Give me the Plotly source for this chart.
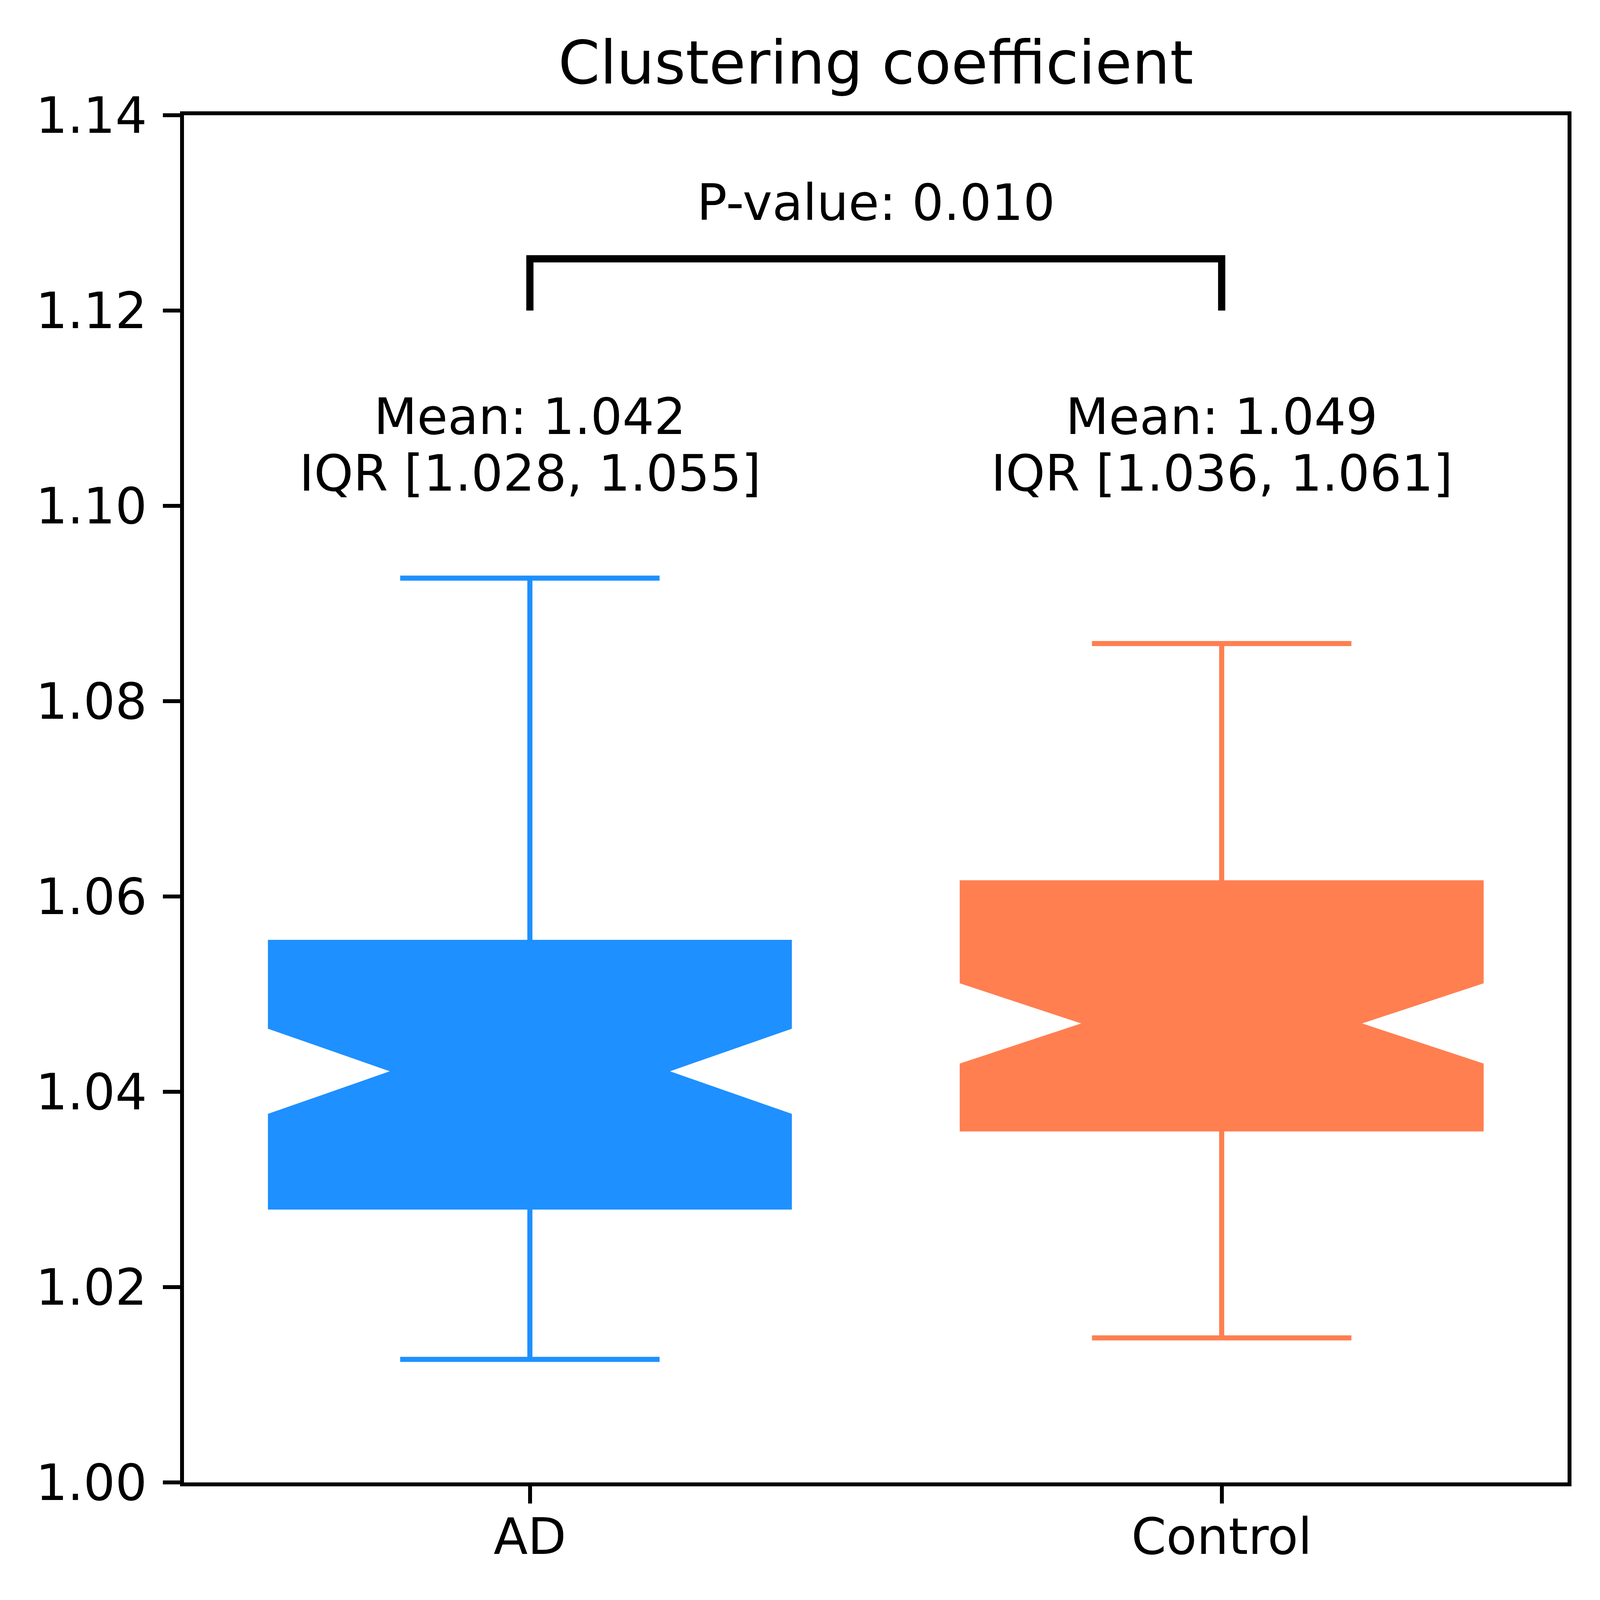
import plotly.graph_objects as go

# ---- data ----
groups = ["AD", "Control"]
positions = [1, 2]
q1_vals = [1.0282, 1.0362]
median_vals = [1.0421, 1.0470]
q3_vals = [1.0553, 1.0614]
lower_whisker = [1.0126, 1.0148]
upper_whisker = [1.0926, 1.0859]
notch_half = [0.00455, 0.0043]
colors = ["#1E90FF", "#FF7F50"]
mean_labels = ["Mean: 1.042", "Mean: 1.049"]
iqr_labels = ["IQR [1.028, 1.055]", "IQR [1.036, 1.061]"]
p_label = "P-value: 0.010"
bracket_base = 1.12
bracket_top = 1.1253
p_text_y = 1.128
stats_text_y = 1.1003
y_ticks = [1.00, 1.02, 1.04, 1.06, 1.08, 1.10, 1.12, 1.14]
y_tick_labels = ["%.2f" % v for v in y_ticks]
title_text = "Clustering coefficient"

# ---- sizing (browser viewport is 4096 x 4096) ----
W, H = 4096, 4096
SX, SY = W / 5377, H / 5301
SF = (SX + SY) / 2
FONT = "DejaVu Sans"
TXT = round(167 * SF)
TITLE = round(200 * SF)
LW_AX = 13 * SF
LW_BOX = 17 * SF
LW_BR = 24 * SF
TICKLEN = round(58 * SF)

fig = go.Figure()

for i in range(len(groups)):
    fig.add_trace(go.Box(
        x=[positions[i]],
        q1=[q1_vals[i]], median=[median_vals[i]], q3=[q3_vals[i]],
        lowerfence=[lower_whisker[i]], upperfence=[upper_whisker[i]],
        notchspan=[notch_half[i]],
        notched=True, notchwidth=0.245,
        width=0.75, whiskerwidth=0.5,
        fillcolor=colors[i],
        line=dict(color=colors[i], width=LW_BOX),
        boxpoints=False, showlegend=False, hoverinfo="skip",
    ))

# significance bracket
fig.add_trace(go.Scatter(
    x=[positions[0], positions[0], positions[1], positions[1]],
    y=[bracket_base, bracket_top, bracket_top, bracket_base],
    mode="lines", line=dict(color="black", width=LW_BR),
    showlegend=False, hoverinfo="skip",
))

annotations = [dict(
    x=(positions[0] + positions[1]) / 2, y=p_text_y, xref="x", yref="y",
    text=p_label, showarrow=False, xanchor="center", yanchor="bottom",
    font=dict(family=FONT, size=TXT, color="black"),
)]
for i in range(len(groups)):
    annotations.append(dict(
        x=positions[i], y=stats_text_y, xref="x", yref="y",
        text=iqr_labels[i], showarrow=False, xanchor="center", yanchor="bottom",
        font=dict(family=FONT, size=TXT, color="black"),
    ))
    annotations.append(dict(
        x=positions[i], y=stats_text_y, xref="x", yref="y", yshift=round(188 * SY),
        text=mean_labels[i], showarrow=False, xanchor="center", yanchor="bottom",
        font=dict(family=FONT, size=TXT, color="black"),
    ))

axis_common = dict(
    showline=True, mirror=True, linecolor="black", linewidth=LW_AX,
    ticks="outside", ticklen=TICKLEN, tickwidth=LW_AX, tickcolor="black",
    showgrid=False, zeroline=False,
    tickfont=dict(family=FONT, size=TXT, color="black"),
)

ml, mr, mt = round(608 * SX), round(120 * SX), round(371 * SY)
mb = H - mt - round(4530 * SY)

fig.update_layout(
    width=W, height=H,
    paper_bgcolor="white", plot_bgcolor="white",
    margin=dict(l=ml, r=mr, t=mt, b=mb),
    font=dict(family=FONT, color="black"),
    title=dict(text=title_text, x=0.5, xref="paper", xanchor="center",
               y=1, yref="paper", yanchor="bottom", pad=dict(b=round(105 * SY)),
               font=dict(family=FONT, size=TITLE, color="black")),
    xaxis=dict(range=[0.5, 2.5], tickvals=positions, ticktext=groups,
               ticklabelstandoff=-25, **axis_common),
    yaxis=dict(range=[1.0, 1.14], tickvals=y_ticks, ticktext=y_tick_labels,
               ticklabelstandoff=15, **axis_common),
    annotations=annotations,
)

fig.write_html("out.html")
